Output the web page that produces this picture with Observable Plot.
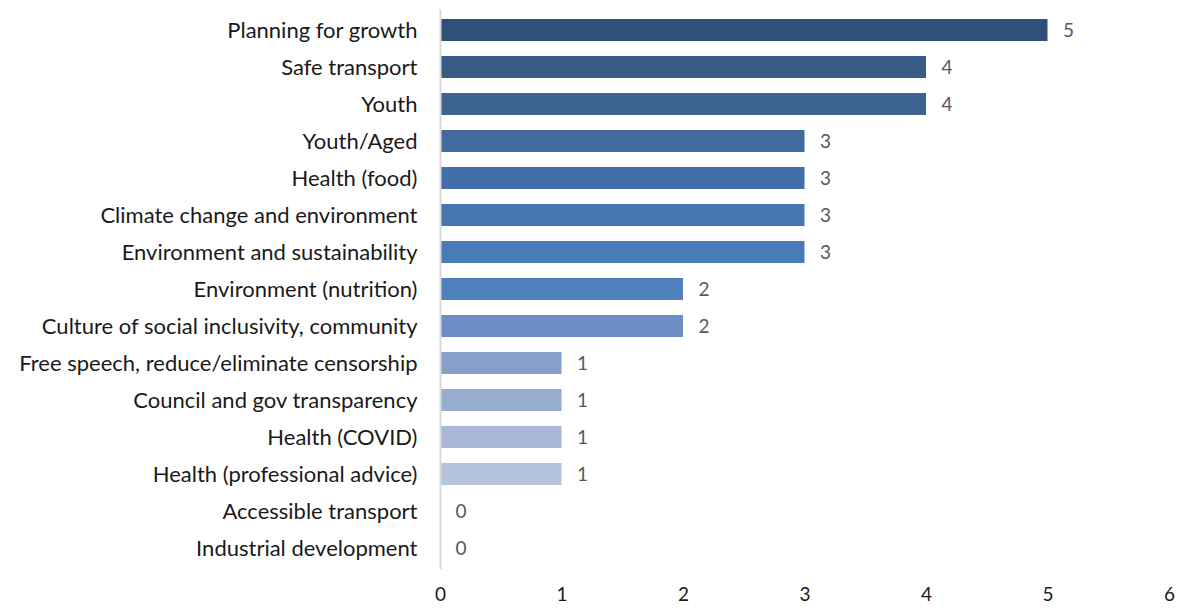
<!DOCTYPE html>
<html>
<head>
<meta charset="utf-8">
<script src="https://cdn.jsdelivr.net/npm/d3@7"></script>
<script src="https://cdn.jsdelivr.net/npm/@observablehq/plot@0.6"></script>
<style>
  html, body { margin: 0; padding: 0; background: #fff; }
  #chart svg { display: block; }
</style>
</head>
<body>
<div id="chart"></div>
<script>
const categories = [
  "Planning for growth",
  "Safe transport",
  "Youth",
  "Youth/Aged",
  "Health (food)",
  "Climate change and environment",
  "Environment and sustainability",
  "Environment (nutrition)",
  "Culture of social inclusivity, community",
  "Free speech, reduce/eliminate censorship",
  "Council and gov transparency",
  "Health (COVID)",
  "Health (professional advice)",
  "Accessible transport",
  "Industrial development"
];
const values = [5, 4, 4, 3, 3, 3, 3, 2, 2, 1, 1, 1, 1, 0, 0];
const barColors = [
  "#2f5179", "#365c86", "#3d6490", "#416a9d", "#436fa8", "#4675b0",
  "#4a7bb9", "#4e81bd", "#6b8fc4", "#84a0cb", "#97acd1", "#a9b8d7",
  "#b4c3df", "#c4d0e6", "#d2dbec"
];
const xTicks = [0, 1, 2, 3, 4, 5, 6];

const data = categories.map((c, i) => ({category: c, value: values[i], color: barColors[i]}));

const chart = Plot.plot({
  width: 1177,
  height: 608,
  marginLeft: 440,
  marginRight: 8,
  marginTop: 9.5,
  marginBottom: 39,
  style: {fontFamily: "Lato, 'Open Sans', sans-serif", background: "#fff"},
  x: {domain: [0, 6], ticks: xTicks, label: null},
  y: {domain: categories, paddingInner: 0.41, paddingOuter: 0.2, label: null},
  marks: [
    Plot.barX(data, {x: "value", y: "category", fill: "color"}),
    Plot.ruleX([0], {stroke: "#d9d9d9", strokeWidth: 2}),
    Plot.text(data, {x: "value", y: "category", text: d => String(d.value), textAnchor: "start", dx: 15, fill: "#595959", fontSize: 19}),
    Plot.axisY({tickSize: 0, tickPadding: 23, fontSize: 22, color: "#1a1a1a", label: null}),
    Plot.axisX({ticks: xTicks, tickFormat: d3.format("d"), tickSize: 0, tickPadding: 18, fontSize: 19, color: "#1a1a1a", label: null})
  ]
});
document.getElementById("chart").appendChild(chart);
</script>
</body>
</html>
